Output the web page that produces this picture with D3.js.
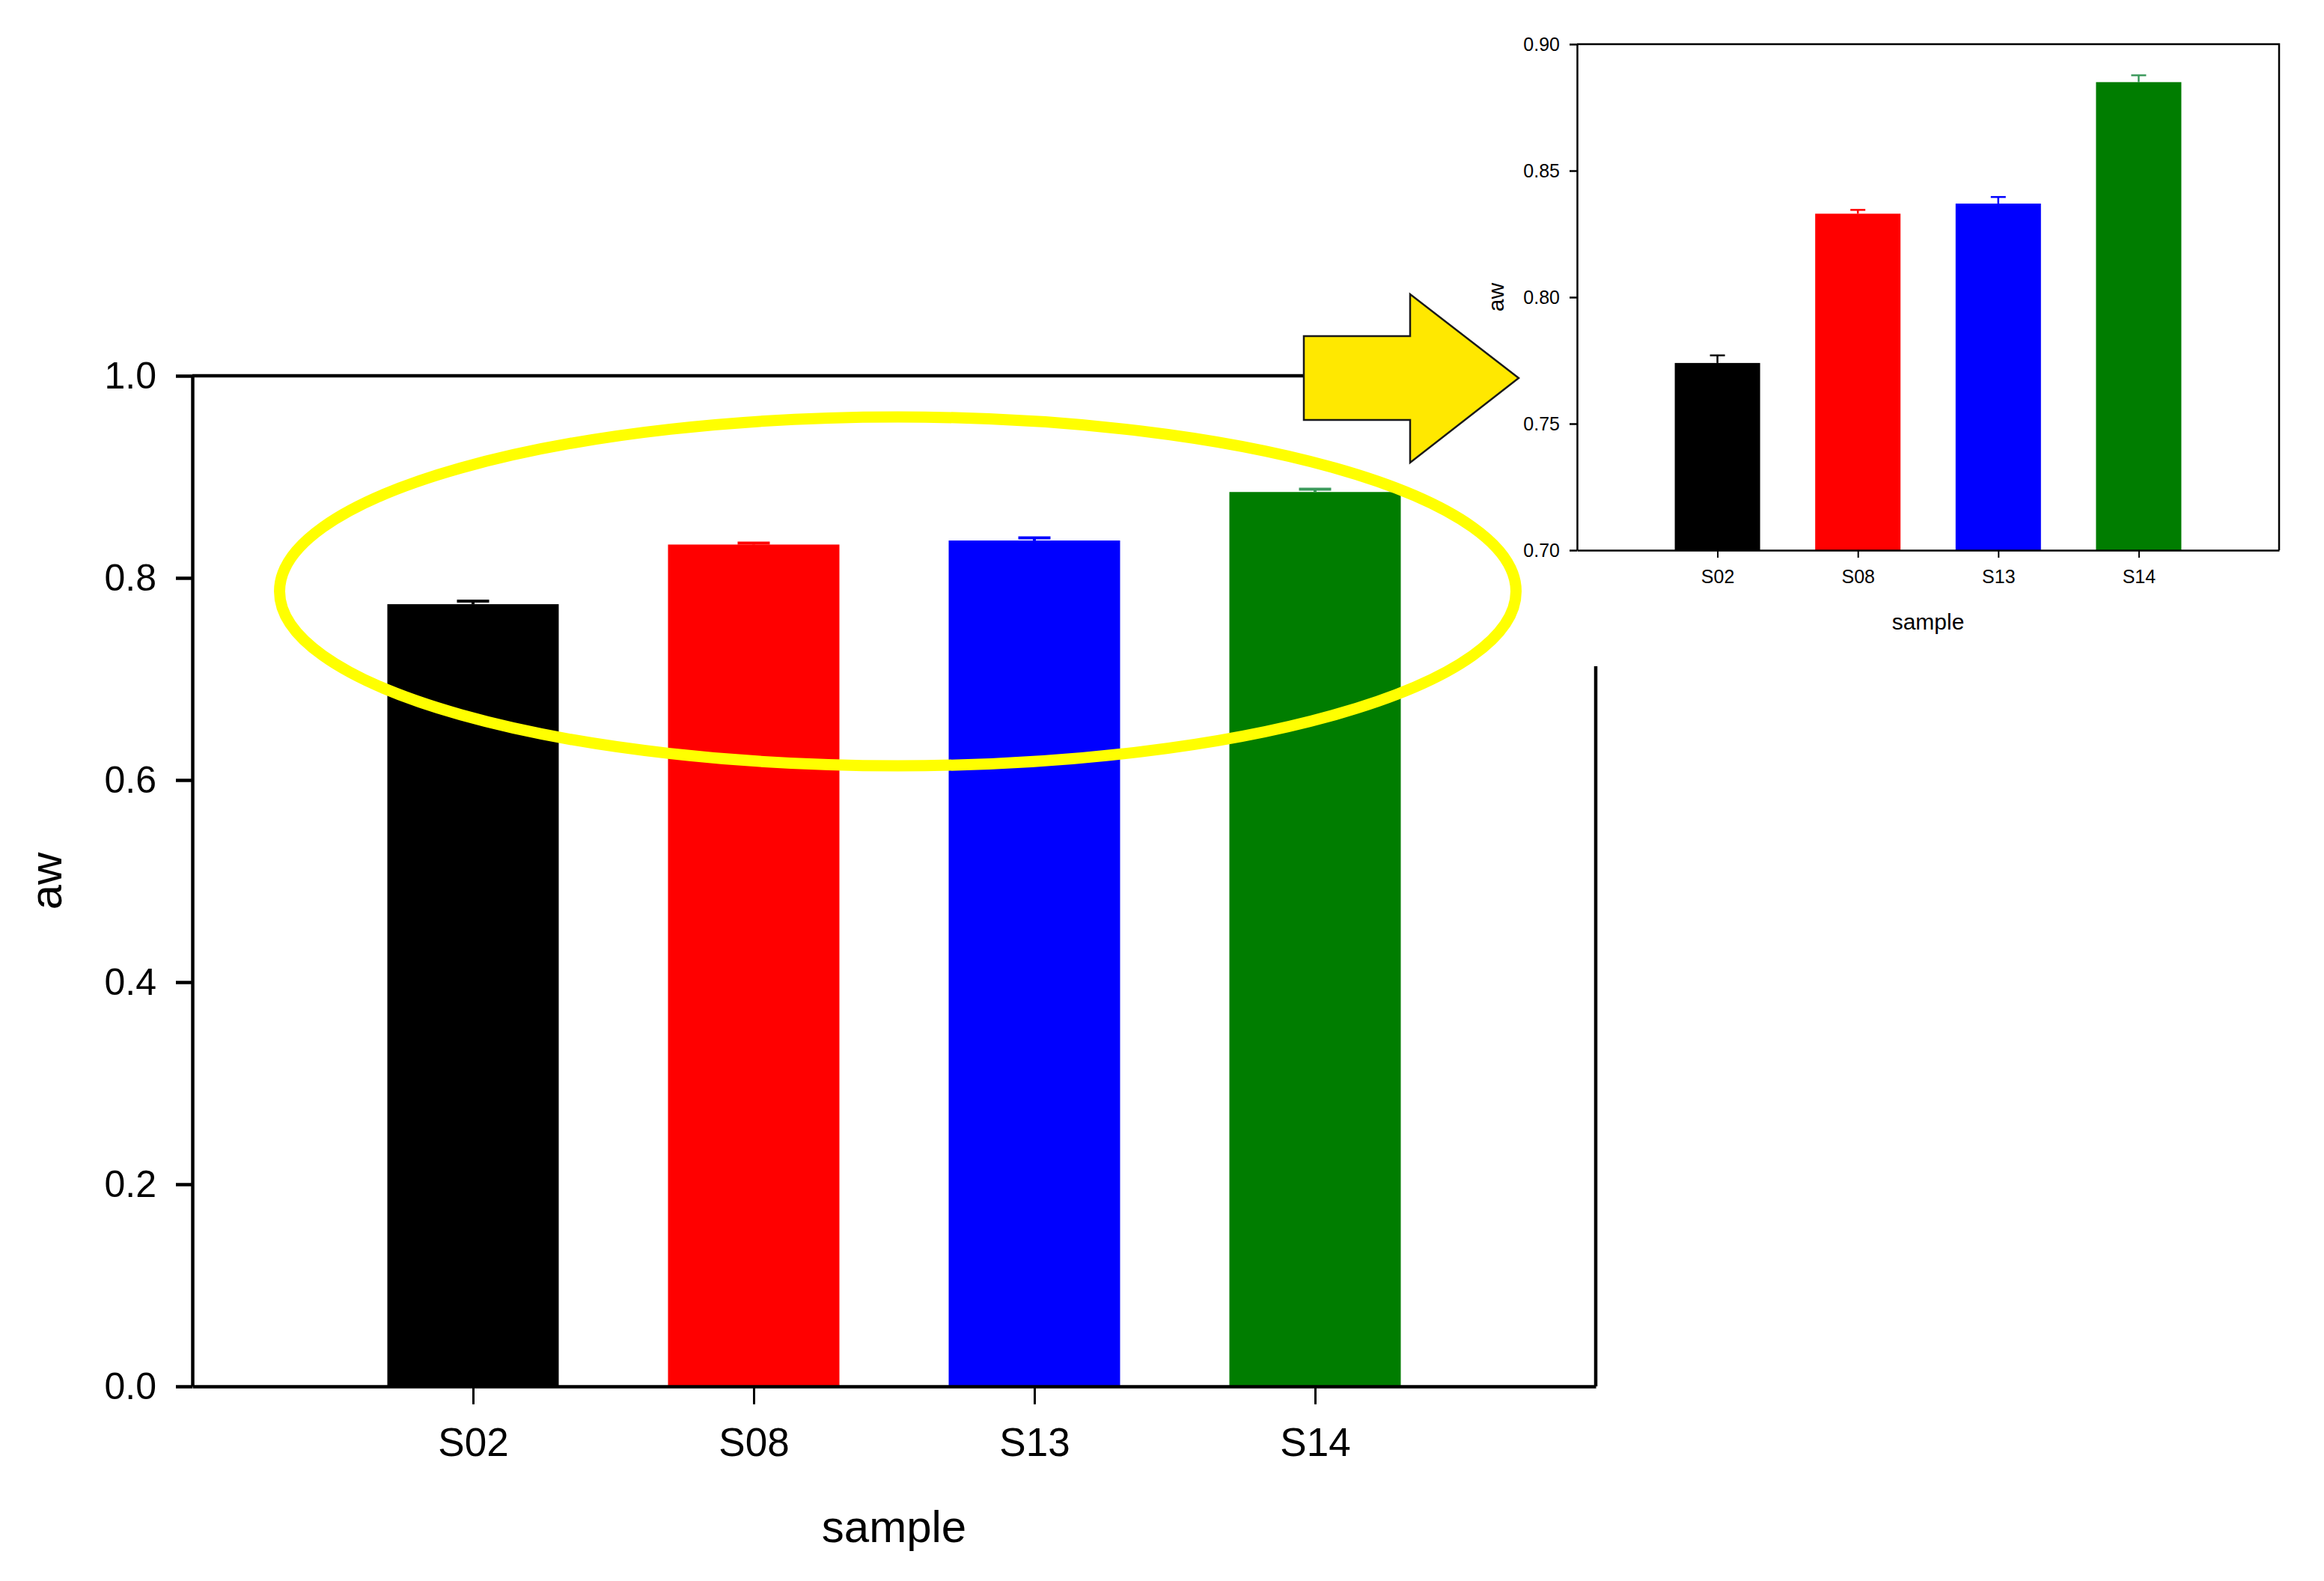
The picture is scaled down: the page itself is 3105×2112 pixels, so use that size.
<!DOCTYPE html>
<html>
<head>
<meta charset="utf-8">
<script src="https://cdn.jsdelivr.net/npm/d3@7"></script>
<style>
  body { margin: 0; background: #fff; }
  svg { display: block; font-family: "Liberation Sans", Arial, sans-serif; }
  .axis path, .axis line { stroke: #000; }
  .axis text { fill: #000; }
</style>
</head>
<body>
<div id="chart"></div>
<script>
// data
var samples = ["S02", "S08", "S13", "S14"];
var aw = [0.774, 0.833, 0.837, 0.885];
var awErr = [0.003, 0.0015, 0.0026, 0.0027];
var barColors = ["#000000", "#ff0000", "#0000ff", "#007d00"];
var errColors = ["#000000", "#ff0000", "#0000ff", "#3c9a5c"];
var mainTicks = [0.0, 0.2, 0.4, 0.6, 0.8, 1.0];
var insetTicks = [0.70, 0.75, 0.80, 0.85, 0.90];

var W = 3105, H = 2112;

var rows = samples.map(function(s, i) {
    return {sample: s, v: aw[i], err: awErr[i], color: barColors[i], ecolor: errColors[i]};
});

var svg = d3.select("#chart").append("svg")
    .attr("width", W)
    .attr("height", H);

svg.append("rect").attr("width", W).attr("height", H).attr("fill", "#fff");

function barPanel(g, opt) {
    var x = d3.scalePoint()
        .domain(samples)
        .range([opt.left, opt.right])
        .padding(1);

    var y = d3.scaleLinear()
        .domain(opt.domain)
        .range([opt.bottom, opt.top]);

    // bars
    g.append("g")
        .selectAll("rect")
        .data(rows)
        .enter()
        .append("rect")
        .attr("x", d => x(d.sample) - opt.barW / 2)
        .attr("y", d => y(d.v))
        .attr("width", opt.barW)
        .attr("height", d => y(opt.domain[0]) - y(d.v))
        .attr("fill", d => d.color);

    // error bars (upper only)
    var eb = g.append("g").selectAll("g")
        .data(rows)
        .enter()
        .append("g")
        .attr("stroke", d => d.ecolor)
        .attr("stroke-width", opt.errW);
    eb.append("line")
        .attr("x1", d => x(d.sample))
        .attr("x2", d => x(d.sample))
        .attr("y1", d => y(d.v))
        .attr("y2", d => y(d.v + d.err));
    eb.append("line")
        .attr("x1", d => x(d.sample) - opt.capW / 2)
        .attr("x2", d => x(d.sample) + opt.capW / 2)
        .attr("y1", d => y(d.v + d.err))
        .attr("y2", d => y(d.v + d.err));

    // frame (top + right)
    g.append("path")
        .attr("d", d3.line()([[opt.left, opt.top], [opt.right, opt.top], [opt.right, opt.bottom]]))
        .attr("fill", "none")
        .attr("stroke", "#000")
        .attr("stroke-width", opt.lineW);

    var yAxis = d3.axisLeft(y)
        .tickValues(opt.ticks)
        .tickFormat(d3.format(opt.fmt))
        .tickSizeInner(opt.yTick)
        .tickSizeOuter(0)
        .tickPadding(opt.yPad);

    var xAxis = d3.axisBottom(x)
        .tickSizeInner(opt.xTick)
        .tickSizeOuter(0)
        .tickPadding(opt.xPad);

    var ya = g.append("g")
        .attr("class", "axis")
        .attr("transform", "translate(" + opt.left + ",0)")
        .call(yAxis);
    ya.selectAll("path, line").attr("stroke-width", opt.lineW);
    ya.selectAll("text").attr("font-size", opt.tickFont).attr("font-family", null);

    var xa = g.append("g")
        .attr("class", "axis")
        .attr("transform", "translate(0," + opt.bottom + ")")
        .call(xAxis);
    xa.select("path").attr("stroke-width", opt.lineW);
    xa.selectAll("line").attr("stroke-width", opt.tickW);
    xa.selectAll("text").attr("font-size", opt.xFont).attr("font-family", null);

    g.append("text")
        .attr("x", (opt.left + opt.right) / 2)
        .attr("y", opt.xLabelY)
        .attr("text-anchor", "middle")
        .attr("font-size", opt.labelFont)
        .text("sample");

    g.append("text")
        .attr("transform", "translate(" + opt.yLabelX + "," + (opt.top + opt.bottom) / 2 + ") rotate(-90)")
        .attr("text-anchor", "middle")
        .attr("font-size", opt.labelFont)
        .text("aw");

    return {x: x, y: y};
}

// main chart
var mainG = svg.append("g");
var main = barPanel(mainG, {
    left: 257, right: 2132, top: 502, bottom: 1852,
    domain: [0, 1], ticks: mainTicks, fmt: ".1f",
    barW: 229, capW: 43, errW: 4, lineW: 4.5, tickW: 3,
    yTick: 22, yPad: 26, xTick: 24, xPad: 31,
    tickFont: 50, xFont: 53, labelFont: 60,
    xLabelY: 2060, yLabelX: 82
});

// inset (pasted picture with white background)
var insetG = svg.append("g");
insetG.append("rect")
    .attr("x", 1975).attr("y", 0)
    .attr("width", W - 1975).attr("height", 890)
    .attr("fill", "#fff");
barPanel(insetG, {
    left: 2107, right: 3045, top: 59, bottom: 735,
    domain: [0.70, 0.90], ticks: insetTicks, fmt: ".2f",
    barW: 114, capW: 20, errW: 2.5, lineW: 2.5, tickW: 2,
    yTick: 10, yPad: 13, xTick: 10, xPad: 16,
    tickFont: 25, xFont: 25, labelFont: 30,
    xLabelY: 841, yLabelX: 2009
});

// yellow highlight ellipse around the bar tops
svg.append("ellipse")
    .attr("cx", (main.x.range()[0] + main.x.range()[1]) / 2 + 5)
    .attr("cy", 790)
    .attr("rx", 826)
    .attr("ry", 233)
    .attr("fill", "none")
    .attr("stroke", "#ffff00")
    .attr("stroke-width", 15);

// yellow block arrow pointing to the inset
var arrow = [[1742, 449], [1884, 449], [1884, 393], [2029, 505], [1884, 618], [1884, 561], [1742, 561]];
svg.append("path")
    .attr("d", d3.line()(arrow) + "Z")
    .attr("fill", "#ffe800")
    .attr("stroke", "#1a1a1a")
    .attr("stroke-width", 2.5)
    .attr("stroke-linejoin", "miter");
</script>
</body>
</html>
